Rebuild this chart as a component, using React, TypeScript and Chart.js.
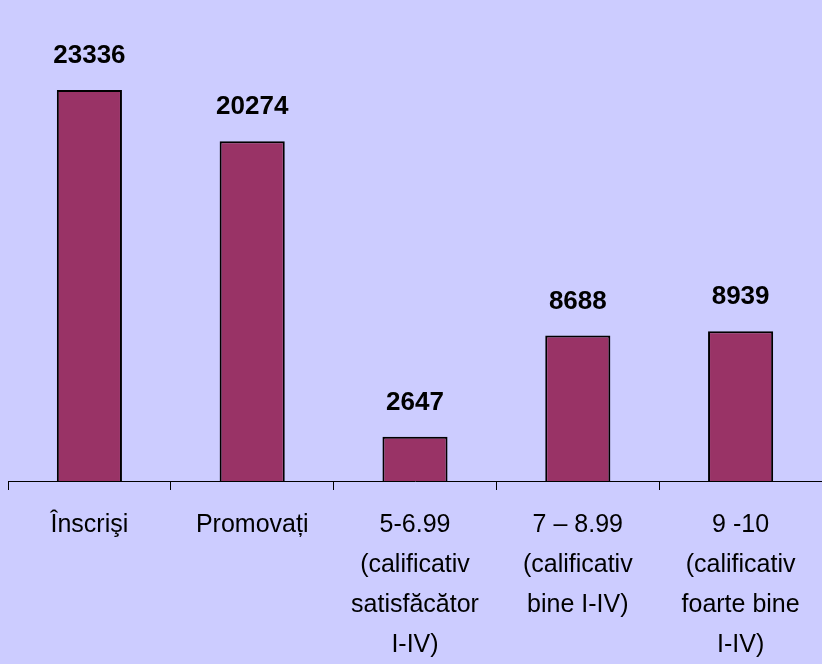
import React, { useEffect, useRef } from "react";
import { Chart, registerables } from "chart.js";

Chart.register(...registerables);

const categories: (string | string[])[] = [
  "Înscrişi",
  "Promovați",
  ["5-6.99", "(calificativ", "satisfăcător", "I-IV)"],
  ["7 – 8.99", "(calificativ", "bine I-IV)"],
  ["9 -10", "(calificativ", "foarte bine", "I-IV)"],
];
const values: number[] = [23336, 20274, 2647, 8688, 8939];

const FONT = "'Liberation Sans', Arial, sans-serif";

const valueLabels = {
  id: "valueLabels",
  afterDatasetsDraw(chart: any) {
    const ctx = chart.ctx;
    const meta = chart.getDatasetMeta(0);
    ctx.save();
    ctx.font = "bold 26px " + FONT;
    ctx.fillStyle = "#000";
    ctx.textAlign = "center";
    ctx.textBaseline = "middle";
    meta.data.forEach((bar: any, i: number) => {
      ctx.fillText(String(values[i]), bar.x, bar.y - 34);
    });
    ctx.restore();
  },
};

export default function App() {
  const ref = useRef<HTMLCanvasElement | null>(null);
  useEffect(() => {
    if (!ref.current) return;
    const chart = new Chart(ref.current, {
      type: "bar",
      data: {
        labels: categories,
        datasets: [
          {
            data: values,
            backgroundColor: "#993366",
            borderColor: "#000000",
            borderWidth: 2,
            barPercentage: 0.4,
            categoryPercentage: 1,
          },
        ],
      },
      options: {
        responsive: false,
        animation: false,
        layout: { padding: { top: 62, left: 8, right: 0, bottom: 0 } },
        plugins: {
          legend: { display: false },
          tooltip: { enabled: false },
          title: { display: false },
        },
        scales: {
          x: {
            afterFit(scale: any) {
              scale.height = 183;
            },
            grid: {
              drawOnChartArea: false,
              drawTicks: true,
              tickLength: 9,
              color: "#000",
              offset: true,
            },
            border: { display: true, color: "#000", width: 1 },
            ticks: {
              color: "#000",
              padding: 15,
              maxRotation: 0,
              autoSkip: false,
              font: { family: FONT, size: 25, lineHeight: 40 / 25 },
            },
          },
          y: {
            display: false,
            min: 0,
            max: 25000,
          },
        },
      },
      plugins: [
        valueLabels,
        {
          id: "bg",
          beforeDraw(c: any) {
            const ctx = c.ctx;
            ctx.save();
            ctx.fillStyle = "#CCCCFF";
            ctx.fillRect(0, 0, c.width, c.height);
            ctx.restore();
          },
        },
      ],
    });
    return () => chart.destroy();
  }, []);
  return (
    <div style={{ position: "absolute", left: 0, top: 0, width: 822, height: 664, background: "#CCCCFF" }}>
      <canvas ref={ref} width={822} height={664} style={{ display: "block" }} />
    </div>
  );
}
